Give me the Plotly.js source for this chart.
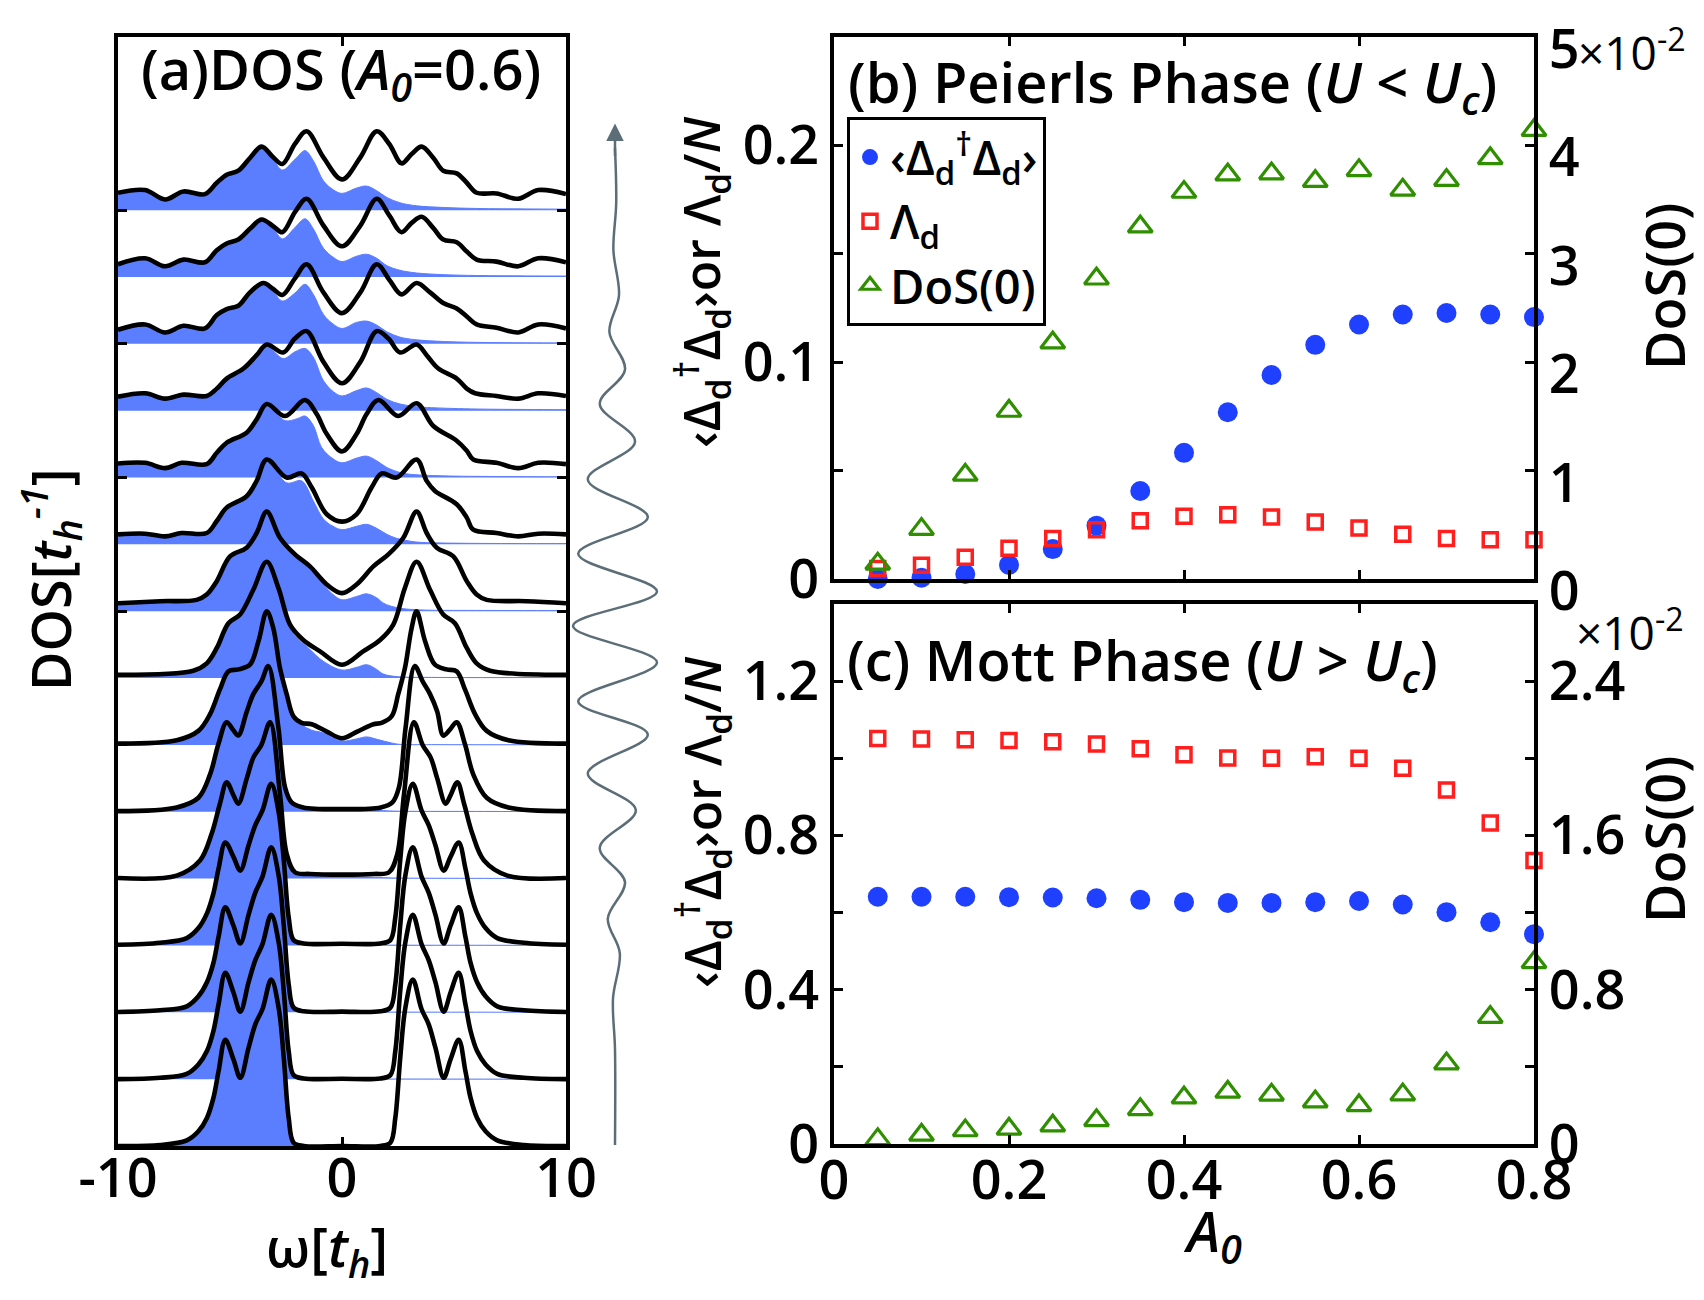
<!DOCTYPE html>
<html>
<head>
<meta charset="utf-8">
<script src="https://cdn.plot.ly/plotly-3.0.1.min.js"></script>
<style>html,body{margin:0;padding:0;background:#fff;}</style>
</head>
<body>
<div id="chart" style="width:1704px;height:1300px;"></div>
<script>
// ---------------- Panel (b)/(c) data ----------------
const A0 = [0.05, 0.10, 0.15, 0.20, 0.25, 0.30, 0.35, 0.40, 0.45, 0.50, 0.55, 0.60, 0.65, 0.70, 0.75, 0.80];

// (b) Peierls phase (U < Uc)
const pairPeierls   = [0.000, 0.0006, 0.0023, 0.0065, 0.0138, 0.0246, 0.0406, 0.0582, 0.0769, 0.0941, 0.108, 0.1174, 0.122, 0.1227, 0.122, 0.1208];
const lambdaPeierls = [0.0048, 0.0063, 0.0100, 0.0142, 0.0187, 0.0227, 0.0269, 0.0290, 0.0296, 0.0286, 0.0263, 0.0235, 0.0206, 0.0187, 0.0181, 0.0181];
const dos0Peierls   = [0.14, 0.46, 0.96, 1.55, 2.18, 2.77, 3.25, 3.57, 3.73, 3.74, 3.67, 3.77, 3.59, 3.68, 3.88, 4.14]; // x10^-2

// (c) Mott phase (U > Uc)
const pairMott   = [0.641, 0.641, 0.641, 0.640, 0.639, 0.637, 0.633, 0.627, 0.625, 0.625, 0.627, 0.630, 0.621, 0.601, 0.575, 0.544];
const lambdaMott = [1.051, 1.050, 1.048, 1.046, 1.043, 1.037, 1.025, 1.009, 1.001, 1.000, 1.004, 1.000, 0.974, 0.918, 0.832, 0.735];
const dos0Mott   = [0.024, 0.047, 0.070, 0.078, 0.095, 0.123, 0.180, 0.240, 0.270, 0.255, 0.220, 0.200, 0.256, 0.417, 0.658, 0.942]; // x10^-2

// ---------------- Panel (a) data ----------------
// DOS curves, listed from the bottom curve (before the pump) to the top curve.
const dosOmega = [
  [-10,-8.12,-6.93,-6.41,-6.03,-5.74,-5.51,-5.21,-4.85,-4.54,-4.17,-3.87,-3.55,-3.16,-2.83,-2.6,-2.38,-2.16,-1.71,0,1.71,2.16,2.38,2.6,2.83,3.16,3.55,3.87,4.17,4.54,4.85,5.21,5.51,5.74,6.03,6.41,6.93,8.12,10],
  [-10,-8.12,-6.93,-6.41,-6.03,-5.74,-5.51,-5.21,-4.85,-4.54,-4.17,-3.87,-3.55,-3.16,-2.83,-2.6,-2.38,-2.16,-1.71,0,1.71,2.16,2.38,2.6,2.83,3.16,3.55,3.87,4.17,4.54,4.85,5.21,5.51,5.74,6.03,6.41,6.93,8.12,10],
  [-10,-8.12,-6.93,-6.41,-6.03,-5.74,-5.51,-5.21,-4.85,-4.54,-4.17,-3.87,-3.55,-3.16,-2.83,-2.6,-2.38,-2.16,-1.71,0,1.71,2.16,2.38,2.6,2.83,3.16,3.55,3.87,4.17,4.54,4.85,5.21,5.51,5.74,6.03,6.41,6.93,8.12,10],
  [-10,-8.12,-6.93,-6.41,-6.03,-5.74,-5.51,-5.21,-4.85,-4.54,-4.17,-3.87,-3.55,-3.16,-2.83,-2.6,-2.38,-2.16,-1.71,0,1.71,2.16,2.38,2.6,2.83,3.16,3.55,3.87,4.17,4.54,4.85,5.21,5.51,5.74,6.03,6.41,6.93,8.12,10],
  [-10,-7.38,-6.34,-5.82,-5.45,-5.15,-4.85,-4.63,-4.25,-3.96,-3.6,-3.21,-2.77,-2.47,-2.10,-1.43,0,1.43,2.10,2.47,2.77,3.21,3.6,3.96,4.25,4.63,4.85,5.15,5.45,5.82,6.34,7.38,10],
  [-10,-7.38,-6.41,-5.89,-5.52,-5.15,-4.85,-4.63,-4.25,-3.96,-3.6,-3.29,-2.84,-2.54,-2.25,-1.73,0,1.73,2.25,2.54,2.84,3.25,3.6,3.93,4.25,4.52,4.8,5.12,5.49,5.86,6.46,7.43,10],
  [-10,-7.38,-6.41,-5.89,-5.45,-5.07,-4.63,-4.11,-3.73,-3.36,-3.07,-2.77,-2.47,-2.17,-1.80,-1.35,-0.68,0,0.68,1.40,1.77,2.22,2.51,2.81,3.11,3.33,3.71,4.15,4.67,5.12,5.49,5.94,6.46,7.43,10],
  [-10,-6.64,-6.04,-5.59,-5.07,-4.55,-3.96,-3.36,-2.84,-2.32,-1.73,-0.98,0,0.94,1.70,2.29,2.81,3.33,3.93,4.52,5.04,5.57,6.01,6.61,10],
  [-10,-8.12,-6.49,-6.04,-5.59,-5.0,-4.26,-3.81,-3.36,-2.77,-2.10,-1.43,-0.68,0,0.65,1.40,2.07,2.74,3.33,3.78,4.23,4.97,5.57,6.01,6.46,8.24,10],
  [-10,-8.79,-7.9,-7.16,-6.04,-5.59,-5.15,-4.26,-3.81,-3.36,-2.47,-1.80,-1.35,-0.68,0,0.65,1.32,1.77,2.44,3.33,3.78,4.15,5.12,5.57,5.86,6.9,7.87,8.76,10],
  [-10,-8.79,-7.9,-7.16,-6.04,-5.59,-5.15,-4.26,-3.81,-3.36,-2.54,-1.65,-1.13,-0.68,0,0.65,1.10,1.62,2.51,3.33,4.08,5.12,5.57,5.86,6.9,7.87,8.76,10],
  [-10,-8.79,-7.9,-7.08,-6.04,-5.59,-5.15,-4.40,-3.81,-3.36,-2.62,-2.10,-1.58,-0.83,0,0.82,1.55,2.07,2.59,3.33,3.78,4.30,5.12,5.57,5.94,6.9,7.87,8.76,10],
  [-10,-8.79,-7.9,-7.08,-6.12,-5.59,-5.15,-4.63,-4.11,-3.51,-3.07,-2.66,-2.10,-1.58,-0.83,0,0.82,1.55,2.11,2.66,3.33,3.93,4.52,5.12,5.57,6.01,6.9,7.87,8.76,10],
  [-10,-8.79,-7.9,-7.08,-6.12,-5.59,-5.15,-4.63,-4.11,-3.59,-3.07,-2.66,-2.10,-1.58,-0.83,0,0.82,1.55,2.11,2.66,3.11,3.56,4.08,4.52,5.12,5.57,6.01,6.9,7.87,8.76,10],
  [-10,-8.79,-7.9,-7.08,-6.12,-5.59,-5.15,-4.63,-4.11,-3.59,-3.07,-2.66,-2.10,-1.58,-0.83,0,0.82,1.55,2.11,2.66,3.11,3.56,4.08,4.52,5.12,5.57,6.01,6.9,7.87,8.76,10]
];
const dosValue = [
  [0,0.015,0.085,0.22,0.42,0.72,1.12,1.59,1.3,1.02,1.47,1.82,2.05,2.49,2.07,1.32,0.42,0.05,0,0,0,0.05,0.42,1.32,2.07,2.49,2.05,1.82,1.47,1.02,1.3,1.59,1.12,0.72,0.42,0.22,0.085,0.015,0],
  [0,0.02,0.08,0.22,0.42,0.72,1.12,1.59,1.3,1.01,1.45,1.78,2.02,2.46,2.05,1.32,0.42,0.06,0.01,0.005,0.01,0.06,0.42,1.32,2.05,2.46,2.02,1.78,1.45,1.01,1.3,1.59,1.12,0.72,0.42,0.22,0.08,0.02,0],
  [0.005,0.03,0.09,0.24,0.45,0.74,1.13,1.57,1.3,1.03,1.46,1.79,2.03,2.47,2.05,1.3,0.42,0.07,0.015,0.01,0.015,0.07,0.42,1.3,2.05,2.47,2.03,1.79,1.46,1.03,1.3,1.57,1.13,0.74,0.45,0.24,0.09,0.03,0.005],
  [0.01,0.04,0.11,0.26,0.48,0.78,1.15,1.54,1.33,1.12,1.5,1.8,2.02,2.42,2.0,1.28,0.42,0.08,0.03,0.025,0.03,0.08,0.42,1.28,2.0,2.42,2.02,1.8,1.5,1.12,1.33,1.54,1.15,0.78,0.48,0.26,0.11,0.04,0.01],
  [0.01,0.045,0.27,0.67,1.12,1.44,1.25,1.12,1.5,1.81,2.0,2.34,1.27,0.37,0.095,0.07,0.06,0.07,0.095,0.37,1.27,2.34,2.0,1.81,1.5,1.12,1.25,1.44,1.12,0.67,0.27,0.045,0.01],
  [0.01,0.065,0.21,0.56,1.01,1.34,1.22,1.14,1.5,1.76,1.95,2.18,1.26,0.36,0.14,0.065,0.04,0.065,0.14,0.36,1.26,2.18,1.95,1.76,1.5,1.14,1.22,1.34,1.01,0.56,0.21,0.065,0.01],
  [0.02,0.07,0.21,0.46,0.83,1.10,1.13,1.20,1.55,2.0,1.75,1.15,0.76,0.43,0.33,0.31,0.20,0.10,0.20,0.31,0.33,0.43,0.76,1.15,1.75,2.0,1.55,1.20,1.13,1.10,0.83,0.46,0.21,0.07,0.02],
  [0.05,0.11,0.22,0.45,0.82,0.95,1.32,1.74,1.35,0.80,0.57,0.40,0.20,0.40,0.57,0.80,1.35,1.74,1.32,0.95,0.82,0.45,0.22,0.11,0.05],
  [0.12,0.15,0.17,0.25,0.45,0.82,0.95,1.17,1.49,1.10,0.85,0.67,0.40,0.27,0.40,0.67,0.85,1.10,1.49,1.17,0.95,0.82,0.45,0.25,0.17,0.15,0.12],
  [0.15,0.16,0.12,0.17,0.17,0.35,0.55,0.72,0.95,1.27,1.0,1.06,0.85,0.45,0.34,0.45,0.85,1.06,1.0,1.27,0.95,0.80,0.60,0.40,0.22,0.17,0.12,0.16,0.15],
  [0.21,0.22,0.14,0.22,0.20,0.37,0.52,0.67,0.87,1.10,0.92,1.16,0.95,0.65,0.39,0.65,0.95,1.16,0.92,1.11,0.77,0.55,0.40,0.27,0.22,0.14,0.22,0.20],
  [0.21,0.26,0.18,0.24,0.22,0.33,0.48,0.63,0.83,0.99,0.87,1.08,1.19,0.73,0.41,0.73,1.19,1.08,0.87,0.99,0.83,0.63,0.48,0.33,0.26,0.22,0.18,0.26,0.22],
  [0.21,0.29,0.17,0.27,0.23,0.43,0.52,0.57,0.77,0.91,0.82,0.73,0.98,1.19,0.77,0.46,0.77,1.19,0.96,0.74,0.91,0.77,0.61,0.53,0.41,0.29,0.24,0.17,0.29,0.23],
  [0.19,0.28,0.16,0.26,0.22,0.40,0.50,0.56,0.72,0.86,0.76,0.67,0.97,1.17,0.77,0.46,0.77,1.17,0.92,0.67,0.81,0.90,0.73,0.56,0.52,0.38,0.26,0.23,0.16,0.28,0.22],
  [0.26,0.30,0.16,0.28,0.24,0.41,0.53,0.59,0.78,0.95,0.79,0.69,0.99,1.18,0.79,0.46,0.79,1.18,0.99,0.70,0.84,0.95,0.78,0.59,0.55,0.41,0.26,0.25,0.17,0.30,0.24]
];
// Occupied part (blue): equal to the DOS up to occCut, then the listed tail.
const occCut = [-2.16, -2.16, -2.16, -2.16, -2.10, -2.25, -2.47, -3.96, -3.81, -3.81, -3.81, -3.81, -4.11, -4.11, -4.11];
const occOmega = [
  [-1.71, 10],
  [-1.71, 0, 10],
  [-1.71, 0, 2, 10],
  [-1.71, 0, 1.4, 2.2, 6, 10],
  [-1.43, 0, 1.4, 2.2, 6, 10],
  [-1.73, 0, 1.7, 2.3, 6, 10],
  [-2.17, -1.8, -1.35, -0.83, 0, 0.65, 1.10, 1.6, 2.2, 2.6, 4, 10],
  [-3.36, -2.84, -2.25, -1.5, -0.83, 0, 0.65, 1.10, 1.5, 1.85, 2.5, 4, 10],
  [-3.36, -2.77, -2.10, -1.5, -0.83, -0.4, 0, 0.65, 1.10, 1.55, 1.85, 2.5, 3.5, 6, 10],
  [-3.36, -2.47, -1.80, -1.28, -0.83, -0.4, 0, 0.65, 1.10, 1.55, 2.0, 2.44, 3.0, 3.5, 6, 10],
  [-3.36, -2.54, -2.0, -1.65, -1.28, -0.91, -0.4, 0, 0.65, 1.10, 1.55, 2.0, 2.59, 3.0, 4.5, 7, 10],
  [-3.36, -2.62, -2.10, -1.65, -1.28, -0.83, -0.37, 0, 0.65, 1.10, 1.55, 2.0, 2.59, 3.33, 4.0, 6.0, 8.24, 10],
  [-3.51, -3.07, -2.66, -2.10, -1.65, -1.28, -0.83, -0.37, 0, 0.65, 1.10, 1.55, 2.0, 2.59, 3.33, 4.52, 6.0, 8.24, 10],
  [-3.59, -3.07, -2.66, -2.10, -1.65, -1.28, -0.83, -0.37, 0, 0.65, 1.10, 1.55, 2.0, 2.59, 3.33, 4.52, 6.0, 8.24, 10],
  [-3.59, -3.07, -2.66, -2.10, -1.65, -1.28, -0.83, -0.37, 0, 0.65, 1.10, 1.55, 2.0, 2.59, 3.33, 4.52, 6.0, 8.24, 10]
];
const occValue = [
  [0, 0],
  [0.005, 0.003, 0],
  [0.01, 0.005, 0.003, 0.001],
  [0.02, 0.015, 0.01, 0.005, 0.003, 0.001],
  [0.05, 0.03, 0.02, 0.01, 0.004, 0.002],
  [0.05, 0.025, 0.02, 0.01, 0.005, 0.002],
  [0.40, 0.30, 0.22, 0.18, 0.06, 0.09, 0.12, 0.08, 0.03, 0.008, 0.004, 0.002],
  [1.72, 1.32, 0.70, 0.45, 0.25, 0.12, 0.16, 0.20, 0.14, 0.06, 0.02, 0.01, 0.008],
  [1.47, 1.05, 0.82, 0.65, 0.40, 0.25, 0.17, 0.22, 0.26, 0.20, 0.12, 0.05, 0.02, 0.012, 0.01],
  [1.25, 0.92, 0.95, 0.65, 0.38, 0.27, 0.22, 0.27, 0.30, 0.24, 0.15, 0.09, 0.05, 0.03, 0.015, 0.012],
  [1.07, 0.85, 0.88, 0.92, 0.78, 0.45, 0.28, 0.22, 0.29, 0.32, 0.25, 0.15, 0.075, 0.05, 0.025, 0.015, 0.012],
  [0.96, 0.78, 0.88, 0.93, 0.80, 0.45, 0.28, 0.22, 0.30, 0.34, 0.27, 0.17, 0.10, 0.06, 0.045, 0.025, 0.018, 0.015],
  [0.89, 0.78, 0.64, 0.76, 0.89, 0.74, 0.44, 0.29, 0.23, 0.32, 0.34, 0.28, 0.18, 0.10, 0.06, 0.035, 0.022, 0.016, 0.014],
  [0.84, 0.72, 0.57, 0.74, 0.87, 0.72, 0.43, 0.29, 0.23, 0.31, 0.34, 0.28, 0.17, 0.10, 0.06, 0.035, 0.022, 0.016, 0.014],
  [0.92, 0.75, 0.60, 0.76, 0.89, 0.74, 0.44, 0.30, 0.25, 0.33, 0.36, 0.29, 0.19, 0.11, 0.065, 0.04, 0.025, 0.018, 0.015]
];

// Pump pulse drawn next to panel (a): time (bottom->top) and field
const pulseTime  = [0.001, 0.087, 0.133, 0.174, 0.205, 0.238, 0.269, 0.303, 0.336, 0.371, 0.401, 0.436, 0.469, 0.500, 0.534, 0.567, 0.601, 0.635, 0.669, 0.700, 0.734, 0.767, 0.808, 0.850, 0.900];
const pulseField = [0, 0, -0.05, 0.12, -0.18, 0.25, -0.38, 0.52, -0.68, 0.82, -0.92, 1.05, -1.05, 1.05, -0.92, 0.82, -0.68, 0.50, -0.38, 0.25, -0.14, 0.10, -0.04, 0.03, 0];

// ---------------- styling ----------------
const W = 1704, H = 1300;
const FONT = "'Open Sans', 'Noto Sans', 'DejaVu Sans', sans-serif";
const BLUE = '#1f41ff', RED = '#ff1f1f', GREEN = '#2f8f00', FILL = '#5b7dff', GRAY = '#5b6d77';
const px = v => v / W, py = v => 1 - v / H;

const traces = [];
// blue occupied fills
for (let k = 0; k < dosOmega.length; k++) {
  const ox = [], oy = [];
  dosOmega[k].forEach((w, i) => { if (w <= occCut[k] + 1e-9) { ox.push(w); oy.push(dosValue[k][i] + k); } });
  occOmega[k].forEach((w, i) => { ox.push(w); oy.push(occValue[k][i] + k); });
  traces.push({x: [-10, 10], y: [k, k], xaxis: 'x', yaxis: 'y', mode: 'lines', line: {width: 0, color: FILL}, hoverinfo: 'skip', showlegend: false});
  traces.push({x: ox, y: oy, xaxis: 'x', yaxis: 'y', mode: 'lines', fill: 'tonexty', fillcolor: FILL,
    line: {width: 1, color: FILL, shape: 'spline', smoothing: 1}, hoverinfo: 'skip', showlegend: false});
}
// black DOS lines
for (let k = 0; k < dosOmega.length; k++) {
  traces.push({x: dosOmega[k], y: dosValue[k].map(v => v + k), xaxis: 'x', yaxis: 'y', mode: 'lines',
    line: {width: 4.6, color: '#000', shape: 'spline', smoothing: 1}, hoverinfo: 'skip', showlegend: false});
}
// pulse
traces.push({x: pulseField, y: pulseTime, xaxis: 'x4', yaxis: 'y6', mode: 'lines',
  line: {width: 2.5, color: GRAY, shape: 'spline', smoothing: 1}, hoverinfo: 'skip', showlegend: false});

// panel (b)
const nm1 = '‹Δ<sub>d</sub><sup>†</sup>Δ<sub>d</sub>›', nm2 = 'Λ<sub>d</sub>', nm3 = 'DoS(0)';
traces.push({x: A0, y: pairPeierls, xaxis: 'x2', yaxis: 'y2', mode: 'markers', name: nm1, cliponaxis: false,
  marker: {symbol: 'circle', size: 20, color: BLUE}});
traces.push({x: A0, y: lambdaPeierls, xaxis: 'x2', yaxis: 'y2', mode: 'markers', name: nm2, cliponaxis: false,
  marker: {symbol: 'square-open', size: 14, color: RED, line: {width: 3.5, color: RED}}});
traces.push({x: A0, y: dos0Peierls, xaxis: 'x2', yaxis: 'y3', mode: 'markers', name: nm3, cliponaxis: false,
  marker: {symbol: 'triangle-up-open', size: 21, color: GREEN, line: {width: 3.2, color: GREEN}}});
// panel (c)
traces.push({x: A0, y: pairMott, xaxis: 'x3', yaxis: 'y4', mode: 'markers', showlegend: false, cliponaxis: false,
  marker: {symbol: 'circle', size: 20, color: BLUE}});
traces.push({x: A0, y: lambdaMott, xaxis: 'x3', yaxis: 'y4', mode: 'markers', showlegend: false, cliponaxis: false,
  marker: {symbol: 'square-open', size: 14, color: RED, line: {width: 3.5, color: RED}}});
traces.push({x: A0, y: dos0Mott, xaxis: 'x3', yaxis: 'y5', mode: 'markers', showlegend: false, cliponaxis: false,
  marker: {symbol: 'triangle-up-open', size: 21, color: GREEN, line: {width: 3.2, color: GREEN}}});

const tickFont = {family: FONT, size: 54, color: '#000', weight: 600};
const ax = extra => Object.assign({showgrid: false, zeroline: false, showline: true, linecolor: '#000', linewidth: 4,
  ticks: 'inside', ticklen: 9, tickwidth: 3, tickcolor: '#000', tickfont: tickFont, fixedrange: true,
  ticklabeloverflow: 'allow'}, extra);

const dA = [px(118), px(566)], yA = [py(1146), py(37)];
const dBC = [px(834), px(1534)], yB = [py(579), py(37)], yC = [py(1144), py(604)];

const layout = {
  width: W, height: H, margin: {l: 0, r: 0, t: 0, b: 0},
  paper_bgcolor: '#fff', plot_bgcolor: 'rgba(0,0,0,0)',
  font: {family: FONT, color: '#000'},
  showlegend: true,
  legend: {x: px(847), y: py(117), xanchor: 'left', yanchor: 'top', bgcolor: '#fff', bordercolor: '#000', borderwidth: 3,
    font: {family: FONT, size: 47, color: '#000', weight: 600}, itemwidth: 30, tracegroupgap: 0, traceorder: 'normal'},
  xaxis: ax({domain: dA, anchor: 'y', range: [-10, 10], tickvals: [-10, 0, 10], ticktext: ['-10', '0', '10'], mirror: 'ticks',
    ticklabelstandoff: -18}),
  yaxis: ax({domain: yA, anchor: 'x', range: [0, 16.59], tickvals: [0, 2, 4, 6, 8, 10, 12, 14], showticklabels: false, mirror: 'ticks'}),
  xaxis2: ax({domain: dBC, anchor: 'y2', range: [0, 0.8], tickvals: [0, 0.2, 0.4, 0.6, 0.8], showticklabels: false, mirror: 'ticks'}),
  yaxis2: ax({domain: yB, anchor: 'x2', range: [0, 0.25], tickvals: [0, 0.05, 0.1, 0.15, 0.2], ticktext: ['0', '', '0.1', '', '0.2']}),
  yaxis3: ax({overlaying: 'y2', anchor: 'x2', side: 'right', range: [0, 5], tickvals: [0, 1, 2, 3, 4, 5], ticktext: ['0', '1', '2', '3', '4', '5'],
    ticklabelshift: 12}),
  xaxis3: ax({domain: dBC, anchor: 'y4', range: [0, 0.8], tickvals: [0, 0.2, 0.4, 0.6, 0.8], ticktext: ['0', '0.2', '0.4', '0.6', '0.8'], mirror: 'ticks',
    ticklabelstandoff: -14}),
  yaxis4: ax({domain: yC, anchor: 'x3', range: [0, 1.4], tickvals: [0, 0.2, 0.4, 0.6, 0.8, 1.0, 1.2], ticktext: ['0', '', '0.4', '', '0.8', '', '1.2']}),
  yaxis5: ax({overlaying: 'y4', anchor: 'x3', side: 'right', range: [0, 2.8], tickvals: [0, 0.4, 0.8, 1.2, 1.6, 2.0, 2.4], ticktext: ['0', '', '0.8', '', '1.6', '', '2.4']}),
  xaxis4: {domain: [px(555), px(675)], anchor: 'y6', range: [-1.5, 1.5], visible: false, fixedrange: true},
  yaxis6: {domain: yA, anchor: 'x4', range: [0, 1], visible: false, fixedrange: true},
  annotations: []
};

const T = (text, x, y, size, opts) => Object.assign({text: text, x: x, y: y, xref: 'paper', yref: 'paper', showarrow: false,
  xanchor: 'center', yanchor: 'middle', font: {family: FONT, size: size, color: '#000', weight: 600}}, opts || {});
const ytitle = '‹Δ<sub>d</sub><sup>†</sup>Δ<sub>d</sub>›or Λ<sub>d</sub>/<i>N</i>';
const thin = {family: FONT, size: 46, color: '#000', weight: 400};
layout.annotations.push(
  T('(a)DOS (<i>A</i><sub><i>0</i></sub>=0.6)', px(341), py(72), 56),
  T('(b) Peierls Phase (<i>U</i> &lt; <i>U</i><sub><i>c</i></sub>)', px(846), py(84), 56, {xanchor: 'left'}),
  T('(c) Mott Phase (<i>U</i> &gt; <i>U</i><sub><i>c</i></sub>)', px(845), py(662), 56, {xanchor: 'left'}),
  T(ytitle, px(702), py(282), 50, {textangle: -90}),
  T(ytitle, px(702), py(822), 50, {textangle: -90}),
  T('DoS(0)', px(1664), py(287), 54, {textangle: -90}),
  T('DoS(0)', px(1664), py(840), 54, {textangle: -90}),
  T('×10<sup>-2</sup>', px(1576), py(50), 46, {xanchor: 'left', font: thin}),
  T('×10<sup>-2</sup>', px(1574), py(630), 46, {xanchor: 'left', font: thin}),
  T('ω[<i>t</i><sub><i>h</i></sub>]', px(327), py(1249), 54),
  T('DOS[<i>t</i><sub><i>h</i></sub><sup><i>-1</i></sup>]', px(50), py(580), 54, {textangle: -90}),
  T('<i>A</i><sub><i>0</i></sub>', px(1212), py(1233), 56),
  {x: 0, y: 0.922, xref: 'x4', yref: 'y6', ax: 0, ay: 34, text: '', showarrow: true, arrowhead: 2, arrowsize: 1.4,
    arrowwidth: 2.5, arrowcolor: GRAY, standoff: 0}
);

Plotly.newPlot('chart', traces, layout, {staticPlot: true, displayModeBar: false});
</script>
</body>
</html>
